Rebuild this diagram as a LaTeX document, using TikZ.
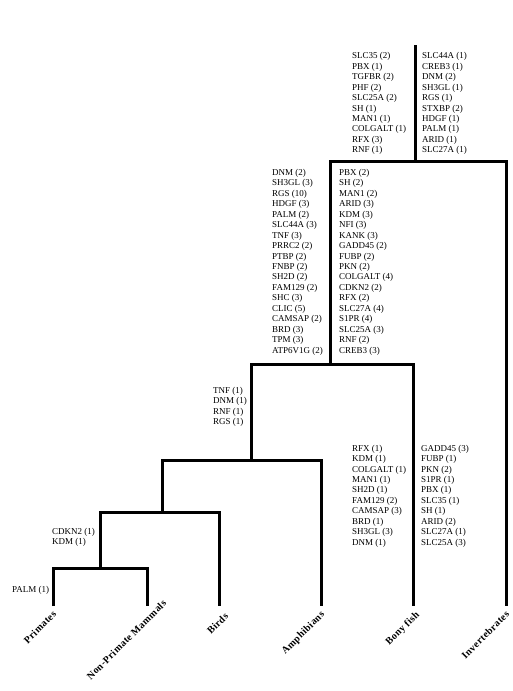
\documentclass[tikz,border=0pt]{standalone}
\usepackage{fontspec}
\setmainfont{Liberation Serif}
\begin{document}
\begin{tikzpicture}[x=1pt,y=-1pt,
  branch/.style={line width=3pt},
  genes/.style={font=\fontsize{9}{10.45}\selectfont, align=left, inner sep=0pt, anchor=north west},
  taxon/.style={font=\fontsize{10}{12}\selectfont\bfseries\addfontfeature{LetterSpace=4}, inner sep=0pt, anchor=base east, rotate=45}]
\useasboundingbox (0,0) rectangle (512,691);

% junctions of the tree
\coordinate (top) at (415,45);
\coordinate (n0) at (415,161);
\coordinate (j1) at (330,364);
\coordinate (j2) at (251,460);
\coordinate (j3) at (162,512);
\coordinate (j4) at (100,568);

% leaf tips
\coordinate (prim) at (53,606);
\coordinate (npm)  at (147,606);
\coordinate (bird) at (219,606);
\coordinate (amph) at (321,606);
\coordinate (fish) at (413,606);
\coordinate (inv)  at (506,606);

% branches
\draw[branch] (top) -- (n0);
\draw[branch] (j1) -- (j1 |- n0) -- (inv |- n0) -- (inv);
\draw[branch] (j2) -- (j2 |- j1) -- (fish |- j1) -- (fish);
\draw[branch] (j3) -- (j3 |- j2) -- (amph |- j2) -- (amph);
\draw[branch] (j4) -- (j4 |- j3) -- (bird |- j3) -- (bird);
\draw[branch] (prim) -- (prim |- j4) -- (npm |- j4) -- (npm);

% taxon labels
\node[taxon] (lprim) at (57,615) {Primates};
\node[taxon] (lnpm)  at (167,604) {Non-Primate Mammals};
\node[taxon] (lbird) at (229,617) {Birds};
\node[taxon] (lamph) at (325,615) {Amphibians};
\node[taxon] (lfish) at (420,615) {Bony fish};
\node[taxon] (linv)  at (510,615) {Invertebrates};

% gene family counts
\node[genes] (g0a) at (352,52.4) {SLC35 (2)\\PBX (1)\\TGFBR (2)\\PHF (2)\\SLC25A (2)\\SH (1)\\MAN1 (1)\\COLGALT (1)\\RFX (3)\\RNF (1)};
\node[genes] (g0b) at (422,52.4) {SLC44A (1)\\CREB3 (1)\\DNM (2)\\SH3GL (1)\\RGS (1)\\STXBP (2)\\HDGF (1)\\PALM (1)\\ARID (1)\\SLC27A (1)};
\node[genes] (g1a) at (272,169) {DNM (2)\\SH3GL (3)\\RGS (10)\\HDGF (3)\\PALM (2)\\SLC44A (3)\\TNF (3)\\PRRC2 (2)\\PTBP (2)\\FNBP (2)\\SH2D (2)\\FAM129 (2)\\SHC (3)\\CLIC (5)\\CAMSAP (2)\\BRD (3)\\TPM (3)\\ATP6V1G (2)};
\node[genes] (g1b) at (339,169) {PBX (2)\\SH (2)\\MAN1 (2)\\ARID (3)\\KDM (3)\\NFI (3)\\KANK (3)\\GADD45 (2)\\FUBP (2)\\PKN (2)\\COLGALT (4)\\CDKN2 (2)\\RFX (2)\\SLC27A (4)\\S1PR (4)\\SLC25A (3)\\RNF (2)\\CREB3 (3)};
\node[genes] (g2) at (213,386.7) {TNF (1)\\DNM (1)\\RNF (1)\\RGS (1)};
\node[genes] (g3a) at (352,444.7) {RFX (1)\\KDM (1)\\COLGALT (1)\\MAN1 (1)\\SH2D (1)\\FAM129 (2)\\CAMSAP (3)\\BRD (1)\\SH3GL (3)\\DNM (1)};
\node[genes] (g3b) at (421,444.7) {GADD45 (3)\\FUBP (1)\\PKN (2)\\S1PR (1)\\PBX (1)\\SLC35 (1)\\SH (1)\\ARID (2)\\SLC27A (1)\\SLC25A (3)};
\node[genes] (g4) at (52,527.7) {CDKN2 (1)\\KDM (1)};
\node[genes] (g5) at (12,585.7) {PALM (1)};
\end{tikzpicture}
\end{document}
